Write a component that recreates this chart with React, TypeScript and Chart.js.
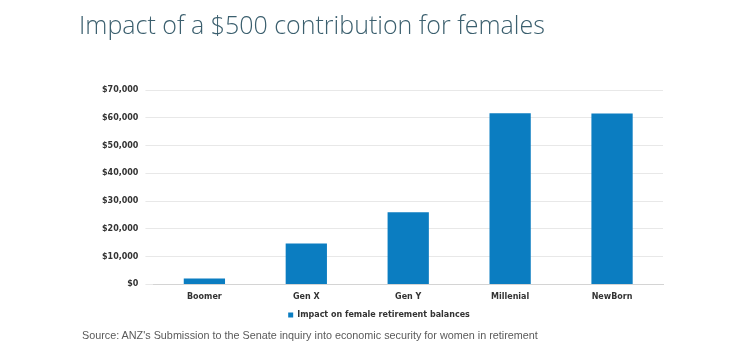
import React, { useEffect, useRef } from "react";
import { Chart, registerables } from "chart.js";

Chart.register(...registerables);

const categories = ["Boomer", "Gen X", "Gen Y", "Millenial", "NewBorn"];
const values = [2100, 14700, 26000, 61600, 61500];
const seriesLabel = "Impact on female retirement balances";
const titleText = "Impact of a $500 contribution for females";
const sourceText = "Source: ANZ's Submission to the Senate inquiry into economic security for women in retirement";

export default function App() {
  const ref = useRef<HTMLCanvasElement>(null);
  useEffect(() => {
    if (!ref.current) return;
    const chart = new Chart(ref.current, {
      type: "bar",
      data: {
        labels: categories,
        datasets: [
          {
            label: seriesLabel,
            data: values,
            backgroundColor: "#0b7dc1",
            borderWidth: 0,
            barPercentage: 0.5,
            categoryPercentage: 0.81,
          },
        ],
      },
      options: {
        animation: false,
        responsive: false,
        maintainAspectRatio: false,
        layout: { padding: { left: 95, right: 77, top: 90, bottom: 28 } },
        plugins: {
          title: { display: false },
          tooltip: { enabled: false },
          legend: {
            position: "bottom",
            labels: {
              boxWidth: 5,
              boxHeight: 5,
              padding: 9,
              color: "#333",
              font: { family: "DejaVu Sans", size: 8, weight: "bold" },
            },
          },
        },
        scales: {
          x: {
            grid: { display: false },
            border: { color: "#d4d4d4" },
            ticks: { color: "#333", font: { family: "DejaVu Sans", size: 8, weight: "bold" }, padding: 0 },
          },
          y: {
            min: 0,
            max: 70000,
            grid: { color: "#e8e8e8" },
            border: { display: false },
            ticks: {
              stepSize: 10000,
              color: "#333",
              padding: 7,
              font: { family: "DejaVu Sans", size: 8, weight: "bold" },
              callback: (v: any) => "$" + Number(v).toLocaleString("en-US"),
            },
          },
        },
      },
    });
    return () => chart.destroy();
  }, []);
  return (
    <div style={{ position: "absolute", left: 0, top: 0, width: 740, height: 357, background: "#fff", overflow: "hidden" }}>
      <canvas ref={ref} width={740} height={357} style={{ position: "absolute", left: 0, top: 0 }} />
      <div
        style={{
          position: "absolute",
          left: 79,
          top: 7,
          fontFamily: "'Open Sans', sans-serif",
          fontWeight: 300,
          fontSize: 25,
          color: "#3b5f6e",
          whiteSpace: "nowrap",
        }}
      >
        {titleText}
      </div>
      <div
        style={{
          position: "absolute",
          left: 82,
          top: 329,
          fontFamily: "'Liberation Sans', Arial, sans-serif",
          fontSize: 10.8,
          color: "#5a5a5a",
          whiteSpace: "nowrap",
        }}
      >
        {sourceText}
      </div>
    </div>
  );
}
